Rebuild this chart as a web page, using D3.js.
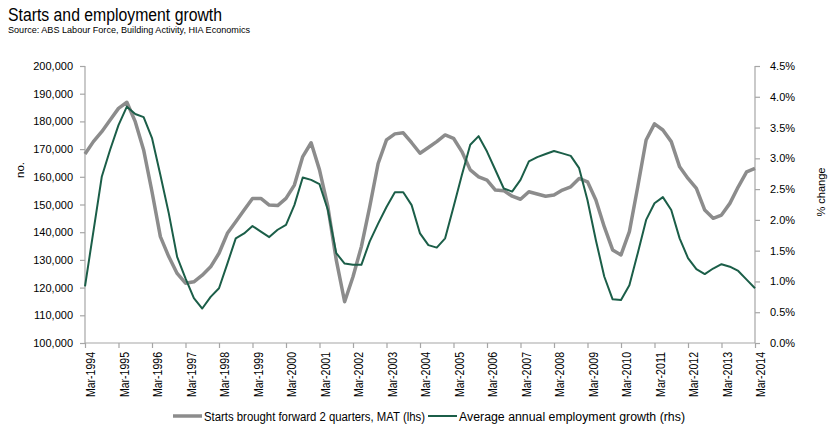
<!DOCTYPE html>
<html><head><meta charset="utf-8">
<script src="https://cdn.jsdelivr.net/npm/d3@7"></script>
<style>body{margin:0;background:#fff}svg{display:block}</style>
</head><body>
<script>
const yearLabels = d3.range(1994, 2015).map(y => "Mar-" + y);
const starts = [168200,172700,176300,180500,184700,186900,179900,169700,154600,138400,131200,125100,121600,122100,124500,127500,132400,139600,143800,148000,152200,152200,149800,149600,152200,157000,167300,172300,162500,149200,130000,114900,123900,134800,149200,164800,173300,175500,175900,172300,168500,170600,172700,175100,173900,169100,162500,160000,158800,155200,155000,153000,151900,154600,153800,153000,153400,155200,156400,159400,158200,151600,142000,133600,131800,140200,156400,173300,179100,176900,172700,163600,159400,155800,148000,145000,146200,150400,156400,161800,163000];
const employment = [0.92,1.81,2.70,3.14,3.54,3.84,3.72,3.67,3.33,2.73,2.11,1.40,1.05,0.73,0.56,0.75,0.89,1.29,1.70,1.78,1.90,1.81,1.72,1.84,1.92,2.24,2.69,2.65,2.58,2.16,1.46,1.29,1.27,1.27,1.65,1.94,2.21,2.45,2.45,2.24,1.78,1.59,1.55,1.70,2.21,2.73,3.22,3.36,3.11,2.81,2.51,2.46,2.65,2.95,3.02,3.07,3.12,3.08,3.04,2.84,2.32,1.67,1.08,0.71,0.70,0.94,1.46,2.00,2.27,2.37,2.16,1.70,1.38,1.20,1.12,1.21,1.28,1.24,1.17,1.03,0.89];
const leftTicks = d3.range(100000, 200001, 10000);
const rightTicks = d3.range(0, 4.51, 0.5);
const seriesNames = ["Starts brought forward 2 quarters, MAT (lhs)", "Average annual employment growth (rhs)"];

const W = 830, H = 430;
const font = "'Liberation Sans',Arial,sans-serif";
const svg = d3.select("body").append("svg").attr("width", W).attr("height", H)
  .style("font-family", font);

const x = d3.scaleLinear().domain([0, 80]).range([85, 755]);
const yL = d3.scaleLinear().domain([100000, 200000]).range([343, 66]);
const yR = d3.scaleLinear().domain([0, 4.5]).range([343, 66]);
const axisColor = "#a6a6a6";
const gray = "#8c8c8c", green = "#1b5e48";

svg.append("text").attr("x", 8).attr("y", 20.5).attr("font-size", 17.5).attr("fill", "#000")
  .attr("textLength", 214).attr("lengthAdjust", "spacingAndGlyphs")
  .text("Starts and employment growth");
svg.append("text").attr("x", 8).attr("y", 33).attr("font-size", 9.8).attr("fill", "#000")
  .attr("textLength", 242).attr("lengthAdjust", "spacingAndGlyphs")
  .text("Source: ABS Labour Force, Building Activity, HIA Economics");

const gl = svg.append("g").attr("transform", "translate(85,0)")
  .call(d3.axisLeft(yL).tickValues(leftTicks).tickSize(5).tickPadding(7).tickFormat(d3.format(",")));
const gr = svg.append("g").attr("transform", "translate(755,0)")
  .call(d3.axisRight(yR).tickValues(rightTicks).tickSize(5).tickPadding(10).tickFormat(d => d.toFixed(1) + "%"));
const gb = svg.append("g").attr("transform", "translate(0,343)")
  .call(d3.axisBottom(x).tickValues(d3.range(0, 81, 4)).tickSize(5).tickPadding(5)
    .tickFormat((d, i) => yearLabels[i]));

[gl, gr, gb].forEach(g => {
  g.selectAll("path.domain").attr("stroke", axisColor).attr("stroke-width", 1.2);
  g.selectAll(".tick line").attr("stroke", axisColor).attr("stroke-width", 1.2);
  g.selectAll("text").attr("font-size", 11).attr("fill", "#000").style("font-family", font);
});
gb.selectAll("text").attr("font-size", 13).attr("transform", "rotate(-90)").attr("text-anchor", "end")
  .attr("x", -9).attr("y", 0).attr("dy", "9.6")
  .attr("textLength", 45).attr("lengthAdjust", "spacingAndGlyphs");
gl.select("path.domain").attr("d", "M0,66V343");
gr.select("path.domain").attr("d", "M0,66V343");
gb.select("path.domain").attr("d", "M85,0H755");

svg.append("text").attr("transform", "translate(24,170) rotate(-90)").attr("text-anchor", "middle")
  .attr("font-size", 11.5).text("no.");
svg.append("text").attr("transform", "translate(825,192) rotate(-90)").attr("text-anchor", "middle")
  .attr("font-size", 11.5).attr("textLength", 49).attr("lengthAdjust", "spacingAndGlyphs").text("% change");

const lineL = d3.line().x((d, i) => x(i)).y(d => yL(d));
const lineR = d3.line().x((d, i) => x(i)).y(d => yR(d));
svg.append("path").datum(starts).attr("d", lineL).attr("fill", "none")
  .attr("stroke", gray).attr("stroke-width", 3.5).attr("stroke-linejoin", "round");
svg.append("path").datum(employment).attr("d", lineR).attr("fill", "none")
  .attr("stroke", green).attr("stroke-width", 2).attr("stroke-linejoin", "round");

const lg = svg.append("g");
lg.append("line").attr("x1", 173).attr("x2", 202).attr("y1", 416).attr("y2", 416)
  .attr("stroke", gray).attr("stroke-width", 3.5);
lg.append("text").attr("x", 204).attr("y", 420.5).attr("font-size", 12.5)
  .attr("textLength", 221).attr("lengthAdjust", "spacingAndGlyphs").text(seriesNames[0]);
lg.append("line").attr("x1", 428).attr("x2", 457).attr("y1", 416).attr("y2", 416)
  .attr("stroke", green).attr("stroke-width", 2);
lg.append("text").attr("x", 459).attr("y", 420.5).attr("font-size", 12.5)
  .attr("textLength", 226).attr("lengthAdjust", "spacingAndGlyphs").text(seriesNames[1]);
</script>
</body></html>
